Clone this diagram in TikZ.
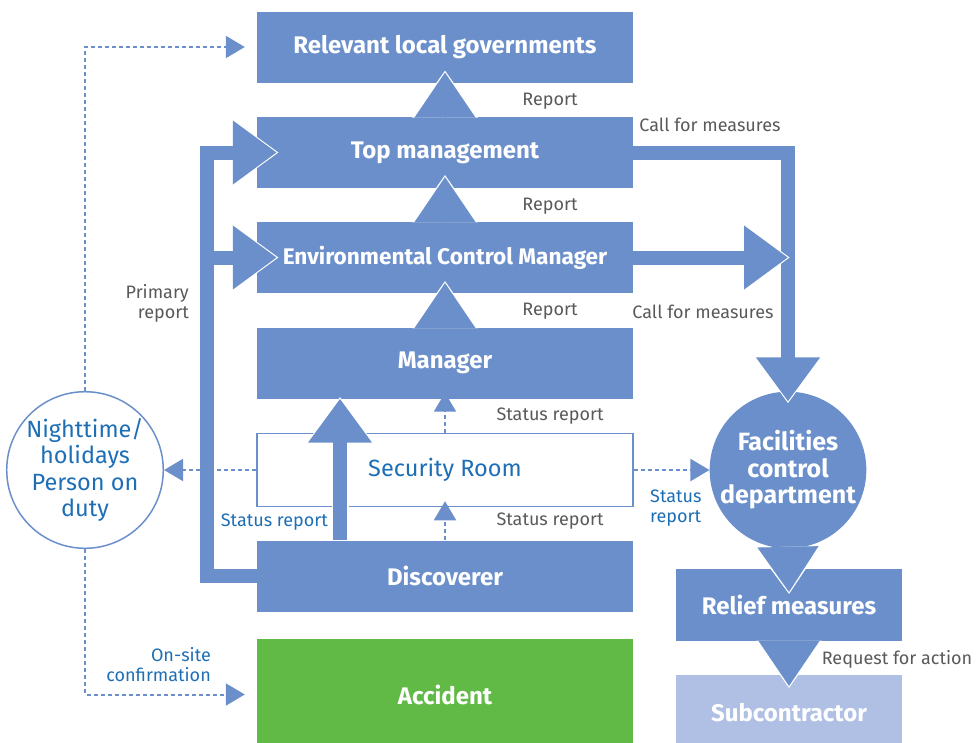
\documentclass[tikz,border=0pt]{standalone}
\usepackage{fontspec}
\setmainfont{Fira Sans}
\usetikzlibrary{positioning}
\usetikzlibrary{arrows.meta}
\definecolor{boxblue}{HTML}{6B8FCA}
\definecolor{lightblue}{HTML}{AFC0E4}
\definecolor{accgreen}{HTML}{62BA46}
\definecolor{textblue}{HTML}{1E6EB6}
\definecolor{textgray}{HTML}{595959}

\begin{document}
\begin{tikzpicture}[x=1pt,y=-1pt,
	box/.style={rectangle, fill=boxblue, inner sep=0pt, minimum width=376pt, minimum height=71pt, text=white, font=\fontsize{24}{27}\selectfont\bfseries},
	roundnode/.style={circle, inner sep=0pt, minimum size=#1, align=center},
	bigarrow/.style={draw=boxblue, line width=14pt,
		preaction={draw=white, line width=17pt, shorten >=-2pt, -{Triangle[width=66pt,length=48pt]}},
		-{Triangle[width=61pt,length=44pt]}},
	headonly/.style={draw=boxblue, line width=0.1pt,
		preaction={draw=white, line width=0.1pt, shorten >=-2pt, -{Triangle[width=66pt,length=47pt]}},
		-{Triangle[width=61pt,length=45pt]}},
	dotarrow/.style={draw=boxblue, line width=2pt, dash pattern=on 4pt off 3pt, -{Triangle[width=22pt,length=19pt]}},
	graylabel/.style={text=textgray, font=\fontsize{18}{20}\selectfont, inner sep=0pt},
	bluelabel/.style={text=textblue, font=\fontsize{18}{20}\selectfont, inner sep=0pt},
	]
	\useasboundingbox (0,0) rectangle (977,742);
	%Nodes
	\node[box]                      (relg)   at (445,47)    {Relevant local governments};
	\node[box]                      (topm)   at (445,152.5) {Top management};
	\node[box, font=\fontsize{22.6}{27}\selectfont\bfseries] (ecm) at (445,257.5) {Environmental Control Manager};
	\node[box]                      (mgr)    at (445,363)   {Manager};
	\node[box, fill=white, draw=boxblue, line width=1.5pt, minimum height=73pt, text=textblue, font=\fontsize{23.5}{26}\selectfont] (secr) at (445,470) {Security Room};
	\node[box]                      (disc)   at (445,576)   {Discoverer};
	\node[box, fill=accgreen, minimum height=111pt] (acc) at (445,694.5) {Accident};
	\node[roundnode=154pt, draw=boxblue, line width=1.5pt, text=textblue, font=\fontsize{23.5}{26.5}\selectfont] (night) at (85,470) {Nighttime/\\holidays\\Person on\\duty};
	\node[roundnode=150pt, fill=boxblue, text=white, font=\fontsize{25}{26.5}\selectfont\bfseries] (fcd) at (788,470) {Facilities\\control\\department};
	\node[box, minimum width=226pt, minimum height=72pt] (relief) at (789,605) {Relief measures};
	\node[box, fill=lightblue, minimum width=226pt, minimum height=75pt] (sub) at (789,712.5) {Subcontractor};

	%Labels
	\node[graylabel]                (rep1)   at (550,101)   {Report};
	\node[graylabel]                (rep2)   at (550,206)   {Report};
	\node[graylabel]                (rep3)   at (550,311)   {Report};
	\node[graylabel]                (cfm1)   at (710,125)   {Call for measures};
	\node[graylabel]                (cfm2)   at (703,312)   {Call for measures};
	\node[graylabel, align=right, anchor=east] (prim) at (189,303) {Primary\\report};
	\node[graylabel]                (stat1)  at (550,416)   {Status report};
	\node[graylabel]                (stat2)  at (550,521)   {Status report};
	\node[bluelabel, anchor=east]   (stat3)  at (328,522)   {Status report};
	\node[bluelabel, align=left, anchor=west] (stat4) at (650,508) {Status\\report};
	\node[bluelabel, align=right, anchor=east] (onsite) at (211,665) {On-site\\confirmation};
	\node[graylabel]                (reqa)   at (897,659)   {Request for action};

	%Connectors
	\coordinate (fork) at ([xshift=-50pt]disc.west);
	\draw[headonly] (topm.north) -- ([yshift=10pt]relg.south);
	\draw[headonly] (ecm.north) -- ([yshift=11pt]topm.south);
	\draw[headonly] (mgr.north) -- ([yshift=10pt]ecm.south);
	\draw[headonly] (fcd.south) -- ([yshift=-23pt]relief.north);
	\draw[headonly] (relief.south) -- ([yshift=-11pt]sub.north);
	\draw[bigarrow] (topm.east) -| ([yshift=-10pt]fcd.north);
	\draw[bigarrow] (ecm.east) -- (ecm.east -| fcd.north);
	\draw[bigarrow] (disc.west) -- (fork) |- ([xshift=20pt]topm.west);
	\draw[bigarrow] ([xshift=7pt]fork |- ecm.west) -- ([xshift=20pt]ecm.west);
	\draw[bigarrow] ([xshift=-105pt]disc.north) -- ([xshift=-105pt]mgr.south);
	\draw[dotarrow] (secr.north) -- ([yshift=6pt]mgr.south);
	\draw[dotarrow] (disc.north) -- ([yshift=6pt]secr.south);
	\draw[dotarrow] (secr.west) -- (night.east);
	\draw[dotarrow] (secr.east) -- (fcd.west);
	\draw[dotarrow] (night.north) |- ([xshift=-12pt]relg.west);
	\draw[dotarrow] (night.south) |- ([xshift=-12pt]acc.west);
\end{tikzpicture}
\end{document}
